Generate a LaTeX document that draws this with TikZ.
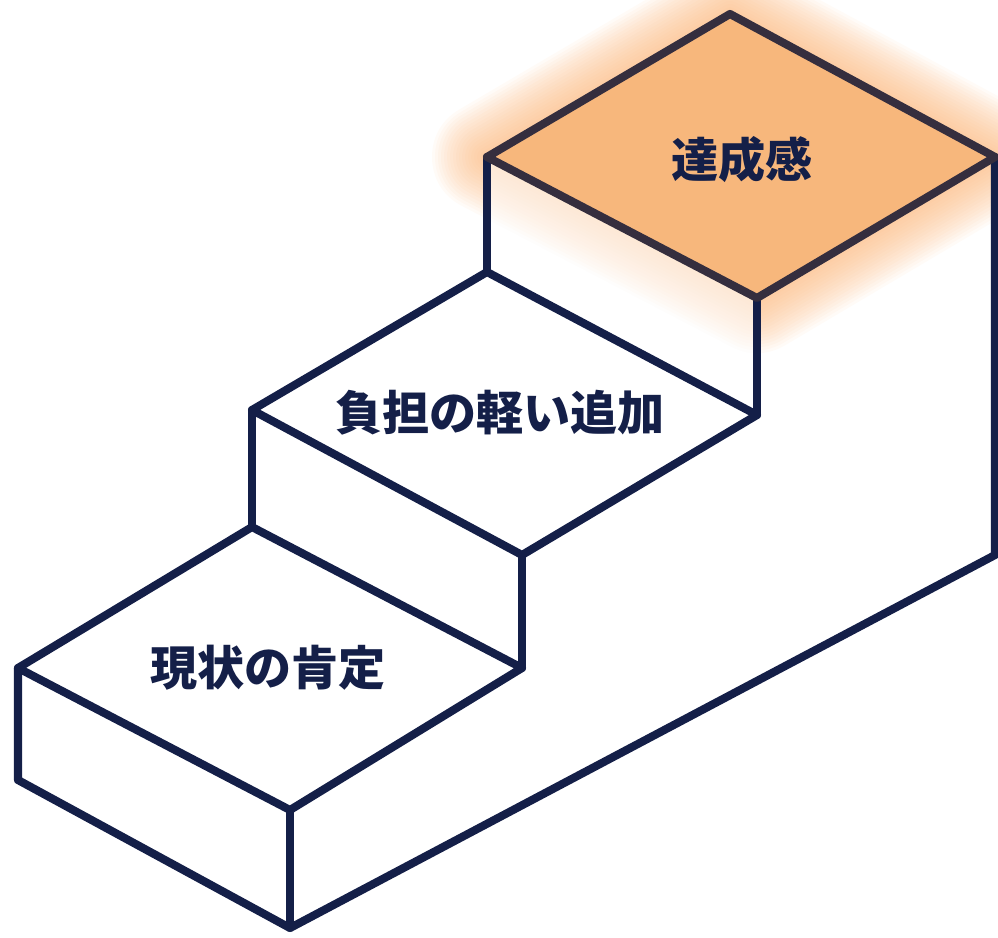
\documentclass[tikz,border=0pt]{standalone}
\usepackage{fontspec}
\newfontfamily\jp{Noto Sans CJK JP}
\definecolor{navy}{HTML}{141F48}
\definecolor{topedge}{HTML}{352E3E}
\definecolor{topfill}{HTML}{F7B77C}
\definecolor{glowc}{HTML}{FBB070}
\begin{document}
\begin{tikzpicture}[x=0.01cm,y=-0.01cm,
  edge/.style={draw=navy,line width=2.3pt,line join=round,line cap=round},
  label/.style={font=\jp\bfseries\fontsize{13.4}{16}\selectfont,text=navy,inner sep=0pt}]
\useasboundingbox (0,0) rectangle (998,937);
% top step
\coordinate (tT) at (730,14);
\coordinate (tR) at (995,157);
\coordinate (tB) at (757,298);
\coordinate (tL) at (487,157);
% middle step
\coordinate (mT) at (487,272);
\coordinate (mR) at (757,415);
\coordinate (mB) at (522,555);
\coordinate (mL) at (252,410);
% bottom step
\coordinate (bT) at (252,527);
\coordinate (bR) at (522,668);
\coordinate (bB) at (290,810);
\coordinate (bL) at (18,668);
\coordinate (bLd) at (18,780);
\coordinate (bBd) at (290,928);
\coordinate (rD) at (995,555);
% glow
\foreach \w in {110,104,98,92,86,80,74,68,62,56,50,44,38,32,26,20,14}
  \draw[glowc,opacity=0.055,line width=\w*0.01cm,line join=round] (tT) -- (tR) -- (tB) -- (tL) -- cycle;
\fill[topfill] (tT) -- (tR) -- (tB) -- (tL) -- cycle;
% front face below the top step, lightly tinted by the glow
\fill[white,opacity=0.55] (tL) -- (tB) -- (mR) -- (mT) -- cycle;
% edges
\draw[edge] (tL) -- (mT);
\draw[edge] (tB) -- (mR);
\draw[edge] (mT) -- (mR) -- (mB) -- (mL) -- cycle;
\draw[edge] (mL) -- (bT);
\draw[edge] (mB) -- (bR);
\draw[edge] (bT) -- (bR) -- (bB) -- (bL) -- cycle;
\draw[edge] (bB) -- (bBd);
\draw[edge] (bL) -- (bLd) -- (bBd) -- (rD) -- (tR);
\draw[edge,draw=topedge] (tT) -- (tR) -- (tB) -- (tL) -- cycle;
% labels
\node[label] (n3) at (742,160) {達成感};
\node[label] (n2) at (500,413) {負担の軽い追加};
\node[label] (n1) at (268,668) {現状の肯定};
\end{tikzpicture}
\end{document}
